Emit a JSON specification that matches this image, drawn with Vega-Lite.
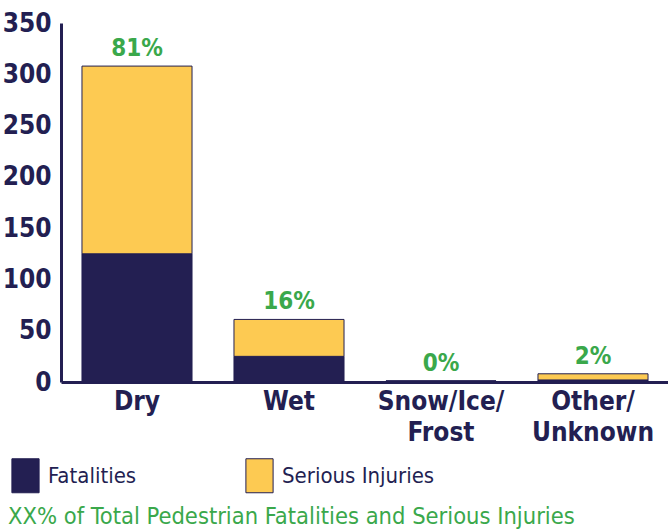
{
  "$schema": "https://vega.github.io/schema/vega-lite/v6.json",
  "width": 608,
  "height": 359,
  "autosize": {"type": "none"},
  "padding": {"left": 61, "top": 23, "right": 0, "bottom": 149},
  "background": "white",
  "config": {
    "view": {"stroke": null},
    "font": "DejaVu Sans Condensed, Roboto"
  },
  "title": {
    "text": "XX% of Total Pedestrian Fatalities and Serious Injuries",
    "orient": "bottom",
    "anchor": "start",
    "frame": "group",
    "dx": -53,
    "offset": 10,
    "font": "DejaVu Sans Condensed, Roboto",
    "fontSize": 23.5,
    "fontWeight": "normal",
    "color": "#3aa84b"
  },
  "data": {
    "values": [
      {"surface": "Dry", "Fatalities": 125, "Serious Injuries": 183, "pct": "81%"},
      {"surface": "Wet", "Fatalities": 25, "Serious Injuries": 36, "pct": "16%"},
      {"surface": "Snow/Ice/Frost", "Fatalities": 1, "Serious Injuries": 0, "pct": "0%"},
      {"surface": "Other/Unknown", "Fatalities": 2, "Serious Injuries": 6, "pct": "2%"}
    ]
  },
  "transform": [
    {"fold": ["Fatalities", "Serious Injuries"], "as": ["type", "value"]}
  ],
  "encoding": {
    "x": {
      "field": "surface",
      "type": "nominal",
      "sort": ["Dry", "Wet", "Snow/Ice/Frost", "Other/Unknown"],
      "scale": {"paddingInner": 0.276, "paddingOuter": 0.138},
      "axis": {
        "title": null,
        "labelAngle": 0,
        "ticks": false,
        "domainColor": "#231f52",
        "domainWidth": 3,
        "labelFont": "DejaVu Sans Condensed, Roboto",
        "labelFontSize": 26,
        "labelFontWeight": "bold",
        "labelColor": "#231f52",
        "labelPadding": 6,
        "labelLineHeight": 31,
        "labelBaseline": "top",
        "labelExpr": "datum.value == 'Snow/Ice/Frost' ? ['Snow/Ice/', 'Frost'] : datum.value == 'Other/Unknown' ? ['Other/', 'Unknown'] : datum.value"
      }
    }
  },
  "layer": [
    {
      "mark": {"type": "bar", "stroke": "#231f52", "strokeWidth": 1},
      "encoding": {
        "y": {
          "field": "value",
          "type": "quantitative",
          "aggregate": "sum",
          "stack": "zero",
          "scale": {"domain": [0, 350]},
          "axis": {
            "title": null,
            "grid": false,
            "ticks": false,
            "values": [0, 50, 100, 150, 200, 250, 300, 350],
            "domainColor": "#231f52",
            "domainWidth": 3,
            "labelFont": "DejaVu Sans Condensed, Roboto",
            "labelFontSize": 26,
            "labelFontWeight": "bold",
            "labelColor": "#231f52",
            "labelPadding": 10
          }
        },
        "color": {
          "field": "type",
          "type": "nominal",
          "sort": ["Fatalities", "Serious Injuries"],
          "scale": {"domain": ["Fatalities", "Serious Injuries"], "range": ["#231f52", "#fdca52"]},
          "legend": {
            "title": null,
            "orient": "none",
            "direction": "horizontal",
            "legendX": -53,
            "legendY": 435,
            "padding": 0,
            "symbolType": "M-0.8,-1H0.8V1H-0.8Z",
            "symbolSize": 1156,
            "symbolStrokeColor": "#231f52",
            "symbolStrokeWidth": 1,
            "symbolOpacity": 1,
            "labelFont": "DejaVu Sans Condensed, Roboto",
            "labelFontSize": 22,
            "labelLimit": 400,
            "labelColor": "#231f52",
            "labelOffset": 5,
            "columnPadding": 105
          }
        },
        "order": {"field": "type", "sort": "ascending"}
      }
    },
    {
      "mark": {"type": "text", "baseline": "bottom", "dy": -5, "fontSize": 24, "fontWeight": "bold", "font": "DejaVu Sans Condensed, Roboto", "color": "#3aa84b"},
      "encoding": {
        "y": {"field": "value", "type": "quantitative", "aggregate": "sum"},
        "text": {"field": "pct", "type": "nominal"}
      }
    }
  ]
}
